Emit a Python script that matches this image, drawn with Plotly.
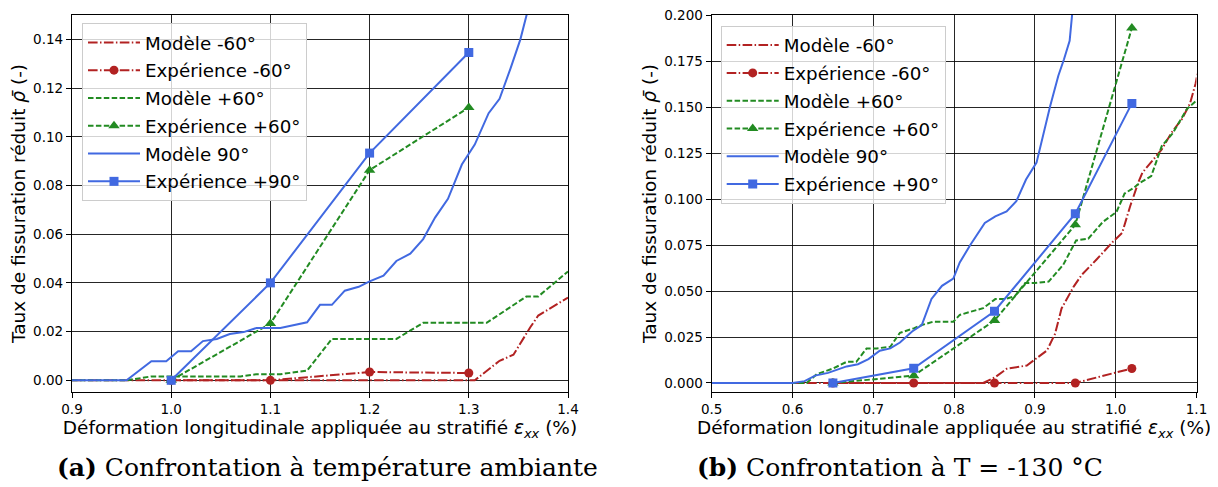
import plotly.graph_objects as go

# ---------------- Data: (a) ambient temperature ----------------
a_m_neg60_x = [0.90, 1.306, 1.331, 1.345, 1.362, 1.370, 1.400]
a_m_neg60_y = [0.0, 0.0, 0.008, 0.0105, 0.0218, 0.0266, 0.034]

a_m_pos60_x = [0.90, 0.955, 0.980, 1.070, 1.086, 1.110, 1.137, 1.162, 1.227, 1.254, 1.318, 1.358, 1.370, 1.400]
a_m_pos60_y = [0.0, 0.0, 0.0016, 0.0016, 0.0025, 0.0025, 0.004, 0.017, 0.017, 0.0236, 0.0236, 0.0344, 0.0344, 0.0447]

a_m_90_x = [0.90, 0.955, 0.980, 0.995, 1.007, 1.020, 1.032, 1.046, 1.059, 1.073, 1.086, 1.110, 1.137, 1.150,
            1.162, 1.175, 1.189, 1.200, 1.214, 1.227, 1.241, 1.254, 1.266, 1.279, 1.293, 1.306, 1.320, 1.331,
            1.342, 1.352, 1.358, 1.365]
a_m_90_y = [0.0, 0.0, 0.0078, 0.0078, 0.0119, 0.0119, 0.0161, 0.017, 0.019, 0.0198, 0.0215, 0.0215, 0.0238, 0.031,
            0.031, 0.0368, 0.0384, 0.0406, 0.043, 0.049, 0.052, 0.058, 0.0668, 0.0745, 0.0886, 0.0968, 0.1097, 0.1156,
            0.128, 0.140, 0.1496, 0.16]

a_exp_x = [1.0, 1.1, 1.2, 1.3]
a_e_neg60_y = [0.0, 0.0, 0.0034, 0.003]
a_e_pos60_y = [0.0, 0.0233, 0.0863, 0.112]
a_e_90_y = [0.0, 0.040, 0.0933, 0.1346]

# ---------------- Data: (b) T = -130 °C ----------------
b_m_neg60_x = [0.50, 0.836, 0.851, 0.865, 0.890, 0.915, 0.925, 0.933, 0.948, 0.958, 0.976, 0.997, 1.008, 1.018,
               1.028, 1.033, 1.057, 1.069, 1.082, 1.092, 1.099, 1.105]
b_m_neg60_y = [0.0, 0.0, 0.0032, 0.0077, 0.0095, 0.0177, 0.0268, 0.0405, 0.0524, 0.0588, 0.067, 0.077, 0.0816, 0.0962,
               0.109, 0.1143, 0.127, 0.136, 0.1435, 0.152, 0.163, 0.177]

b_m_pos60_x = [0.50, 0.6175, 0.630, 0.6505, 0.667, 0.679, 0.6917, 0.704, 0.721, 0.733, 0.750, 0.760, 0.774, 0.799,
               0.807, 0.836, 0.851, 0.863, 0.875, 0.888, 0.900, 0.917, 0.935, 0.951, 0.966, 0.984, 1.001, 1.011,
               1.022, 1.030, 1.044, 1.057, 1.071, 1.088, 1.102]
b_m_pos60_y = [0.0, 0.0, 0.0048, 0.0079, 0.0115, 0.0115, 0.0188, 0.0188, 0.0197, 0.0273, 0.0297, 0.0315, 0.0333, 0.0333,
               0.037, 0.0407, 0.0456, 0.0456, 0.0471, 0.0544, 0.0544, 0.0551, 0.0642, 0.0775, 0.0784, 0.0875, 0.093, 0.103,
               0.106, 0.1088, 0.1125, 0.1288, 0.136, 0.1489, 0.1543]

b_m_90_x = [0.50, 0.600, 0.615, 0.628, 0.644, 0.667, 0.681, 0.694, 0.708, 0.721, 0.733, 0.748, 0.760, 0.772, 0.785,
            0.799, 0.807, 0.820, 0.838, 0.851, 0.865, 0.877, 0.889, 0.902, 0.919, 0.929, 0.936, 0.943, 0.946, 0.950]
b_m_90_y = [0.0, 0.0, 0.001, 0.004, 0.0055, 0.009, 0.0102, 0.013, 0.0175, 0.0188, 0.022, 0.028, 0.0315, 0.0457, 0.0528,
            0.0568, 0.0655, 0.075, 0.087, 0.0906, 0.0933, 0.0988, 0.1106, 0.1198, 0.1507, 0.167, 0.176, 0.186, 0.200, 0.21]

b_exp_x = [0.65, 0.75, 0.85, 0.95, 1.02]
b_e_neg60_y = [0.0, 0.0, 0.0, 0.0, 0.0079]
b_e_pos60_y = [0.0, 0.004, 0.034, 0.086, 0.193]
b_e_90_y = [0.0, 0.008, 0.039, 0.092, 0.152]

labels = ["Modèle -60°", "Expérience -60°", "Modèle +60°", "Expérience +60°", "Modèle 90°", "Expérience +90°"]

RED, GREEN, BLUE = "#b22222", "#228b22", "#4169e1"
DASHDOT = "9.6px,2.4px,1.5px,2.4px"
DASH = "5.5px,2.4px"
FONT = "DejaVu Sans"

# The page body has an 8px margin; layout positions below are given in page pixels.
OFF = 8
W, H = 1218 - OFF, 487 - OFF


def px(x):
    return (x - OFF) / W


def py(y):
    return 1 - (y - OFF) / H


fig = go.Figure()


def add_panel(xa, ya, leg, m1, e1y, m2, e2y, m3, e3y, ex):
    specs = [
        (m1[0], m1[1], RED, DASHDOT, None, labels[0]),
        (ex, e1y, RED, DASHDOT, dict(symbol="circle", size=9), labels[1]),
        (m2[0], m2[1], GREEN, DASH, None, labels[2]),
        (ex, e2y, GREEN, DASH, dict(symbol="triangle-up", size=10), labels[3]),
        (m3[0], m3[1], BLUE, "solid", None, labels[4]),
        (ex, e3y, BLUE, "solid", dict(symbol="square", size=9), labels[5]),
    ]
    for i, (x, y, c, d, mk, name) in enumerate(specs):
        kw = dict(x=x, y=y, name=name, xaxis=xa, yaxis=ya, legend=leg,
                  legendgroup=f"{leg}{i}", line=dict(color=c, width=2, dash=d))
        if mk:
            kw["mode"] = "lines+markers"
            kw["marker"] = dict(color=c, line=dict(width=0), **mk)
        else:
            kw["mode"] = "lines"
        fig.add_trace(go.Scatter(**kw))


add_panel("x", "y", "legend", (a_m_neg60_x, a_m_neg60_y), a_e_neg60_y,
          (a_m_pos60_x, a_m_pos60_y), a_e_pos60_y, (a_m_90_x, a_m_90_y), a_e_90_y, a_exp_x)
add_panel("x2", "y2", "legend2", (b_m_neg60_x, b_m_neg60_y), b_e_neg60_y,
          (b_m_pos60_x, b_m_pos60_y), b_e_pos60_y, (b_m_90_x, b_m_90_y), b_e_90_y, b_exp_x)

xtitle = "Déformation longitudinale appliquée au stratifié <i>ε<sub>xx</sub></i> (%)"
ytitle = "Taux de fissuration réduit <i>ρ̄</i> (-)"
TITLE_SIZE = 18.5

common = dict(showline=True, linecolor="black", linewidth=1.3, mirror=True, automargin=False,
              ticks="outside", ticklen=5, tickcolor="black", tickwidth=1, ticklabeloverflow="allow",
              showgrid=True, gridcolor="rgba(0,0,0,0.85)", gridwidth=1, zeroline=False,
              tickfont=dict(family=FONT, size=13.5, color="black"))

ydom = [py(392), py(15)]

legend_common = dict(xanchor="left", yanchor="top", bgcolor="rgba(255,255,255,0.8)",
                     bordercolor="#cccccc", borderwidth=1, tracegroupgap=1, itemwidth=52,
                     font=dict(family=FONT, size=18.3, color="black"))

fig.update_layout(
    width=W, height=H, margin=dict(l=0, r=0, t=0, b=0, autoexpand=False),
    paper_bgcolor="white", plot_bgcolor="white",
    font=dict(family=FONT, color="black"),
    xaxis=dict(domain=[px(72), px(568)], range=[0.9, 1.4], dtick=0.1, tick0=0.9, tickformat=".1f",
               anchor="y", title=dict(text=xtitle, standoff=4, font=dict(size=TITLE_SIZE, family=FONT)), **common),
    yaxis=dict(domain=ydom, range=[-0.0048, 0.15], dtick=0.02, tick0=0, tickformat=".2f",
               anchor="x", title=dict(text=ytitle, standoff=2, font=dict(size=TITLE_SIZE, family=FONT)), **common),
    xaxis2=dict(domain=[px(711.7), px(1196.5)], range=[0.5, 1.1], dtick=0.1, tick0=0.5, tickformat=".1f",
                anchor="y2", title=dict(text=xtitle, standoff=4, font=dict(size=TITLE_SIZE, family=FONT)), **common),
    yaxis2=dict(domain=ydom, range=[-0.0049, 0.20005], dtick=0.025, tick0=0, tickformat=".3f",
                anchor="x2", title=dict(text=ytitle, standoff=2, font=dict(size=TITLE_SIZE, family=FONT)), **common),
    legend=dict(x=px(82), y=py(23), **legend_common),
    legend2=dict(x=px(720.7), y=py(25.7), **legend_common),
    annotations=[
        dict(text="<b>(a)</b> Confrontation à température ambiante", x=px(327), y=py(467),
             xref="paper", yref="paper", xanchor="center", yanchor="middle", showarrow=False,
             font=dict(family="DejaVu Serif", size=25, color="black")),
        dict(text="<b>(b)</b> Confrontation à T = -130 °C", x=px(900), y=py(467),
             xref="paper", yref="paper", xanchor="center", yanchor="middle", showarrow=False,
             font=dict(family="DejaVu Serif", size=25, color="black")),
    ],
)

fig.write_html("out.html")
